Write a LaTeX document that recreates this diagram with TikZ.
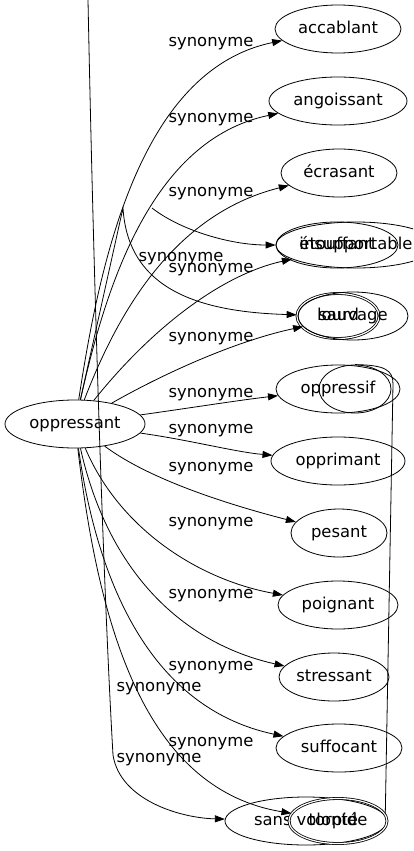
\documentclass[tikz,border=0pt]{standalone}
\usepackage{fontspec}
\setmainfont{DejaVu Sans}
\usetikzlibrary{shapes.geometric,arrows.meta}
\tikzset{
  every node/.style={text height=10pt, text depth=1pt},
  mot/.style={draw, ellipse, inner sep=0pt, minimum height=48pt},
  motdouble/.style={mot, double, double distance=1.2pt},
}
\begin{document}
\begin{tikzpicture}[x=1pt,y=-1pt,>={Triangle[length=10pt,width=7pt]},font=\fontsize{16.4}{18}\selectfont,line width=0.8pt]
\useasboundingbox (0,0) rectangle (413,851);
\clip (0,0) rectangle (413,851);
\node[mot,minimum width=140pt] (op) at (75,424) {oppressant};
\node[mot,minimum width=126pt] (acc) at (338,29) {accablant};
\node[mot,minimum width=138pt] (ang) at (338,101) {angoissant};
\node[mot,minimum width=116pt] (ecr) at (339,173) {écrasant};
\node[mot,minimum width=122pt,minimum height=46pt] (etou) at (337,245) {étouffant};
\node[mot,minimum width=160pt,minimum height=46pt] (insu) at (356,245) {insupportable};
\node[motdouble,minimum width=82pt,minimum height=45pt] (lourd) at (338,316) {lourd};
\node[mot,minimum width=110pt] (sauv) at (353,316) {sauvage};
\node[mot,minimum width=124pt] (oppf) at (338,389) {oppressif};
\node[mot,minimum width=72pt] (oppg) at (355,389) {};
\node[mot,minimum width=134pt] (oppm) at (338,461) {opprimant};
\node[mot,minimum width=96pt] (pes) at (339,533) {pesant};
\node[mot,minimum width=120pt] (poi) at (338,605) {poignant};
\node[mot,minimum width=110pt] (str) at (334,677) {stressant};
\node[mot,minimum width=126pt] (suf) at (339,748) {suffocant};
\node[mot,minimum width=162pt] (sans) at (306,821) {sans volonté};
\node[motdouble,minimum width=98pt,minimum height=45pt] (torp) at (338,821) {torpide};
\foreach \y [count=\i] in {42,118,192,268,337,393,429,467,522,594,666,742}
  \node (syn\i) at (211,\y) {synonyme};
\node (syn13) at (181,257) {synonyme};
\node (syn14) at (159,687) {synonyme};
\node (syn15) at (159,758) {synonyme};
\coordinate (lkink) at (123,208);
\coordinate (etfree) at (152,208);
\coordinate (ltop) at (88,0);
\coordinate (lbend) at (113,755);
\coordinate (vtop) at (393,384);
\draw[->] (op) .. controls (100,260) and (140,70) .. (acc);
\draw[->] (op) .. controls (105,290) and (150,140) .. (ang);
\draw[->] (op) .. controls (115,320) and (170,215) .. (ecr);
\draw[->] (etfree) .. controls (180,230) and (230,245) .. (etou);
\draw[->] (op) .. controls (150,330) and (220,275) .. (insu);
\draw[->] (op) -- (lkink) .. controls (128,290) and (200,312) .. (lourd);
\draw[->] (op) .. controls (170,370) and (240,340) .. (sauv);
\draw[->] (op) .. controls (190,408) and (240,400) .. (oppf);
\draw[->] (op) .. controls (190,440) and (235,452) .. (oppm);
\draw[->] (op) .. controls (150,480) and (230,505) .. (pes);
\draw[->] (op) .. controls (120,530) and (200,580) .. (poi);
\draw[->] (op) .. controls (110,580) and (190,645) .. (str);
\draw[->] (op) .. controls (100,600) and (160,710) .. (suf);
\draw[->] (op) .. controls (100,640) and (150,790) .. (torp);
\draw[->] (ltop) .. controls (94,300) and (104,600) .. (lbend) .. controls (120,800) and (180,818) .. (sans);
\draw (oppg.north) .. controls (385,365) and (393,370) .. (vtop) -- (torp.8);
\end{tikzpicture}
\end{document}
